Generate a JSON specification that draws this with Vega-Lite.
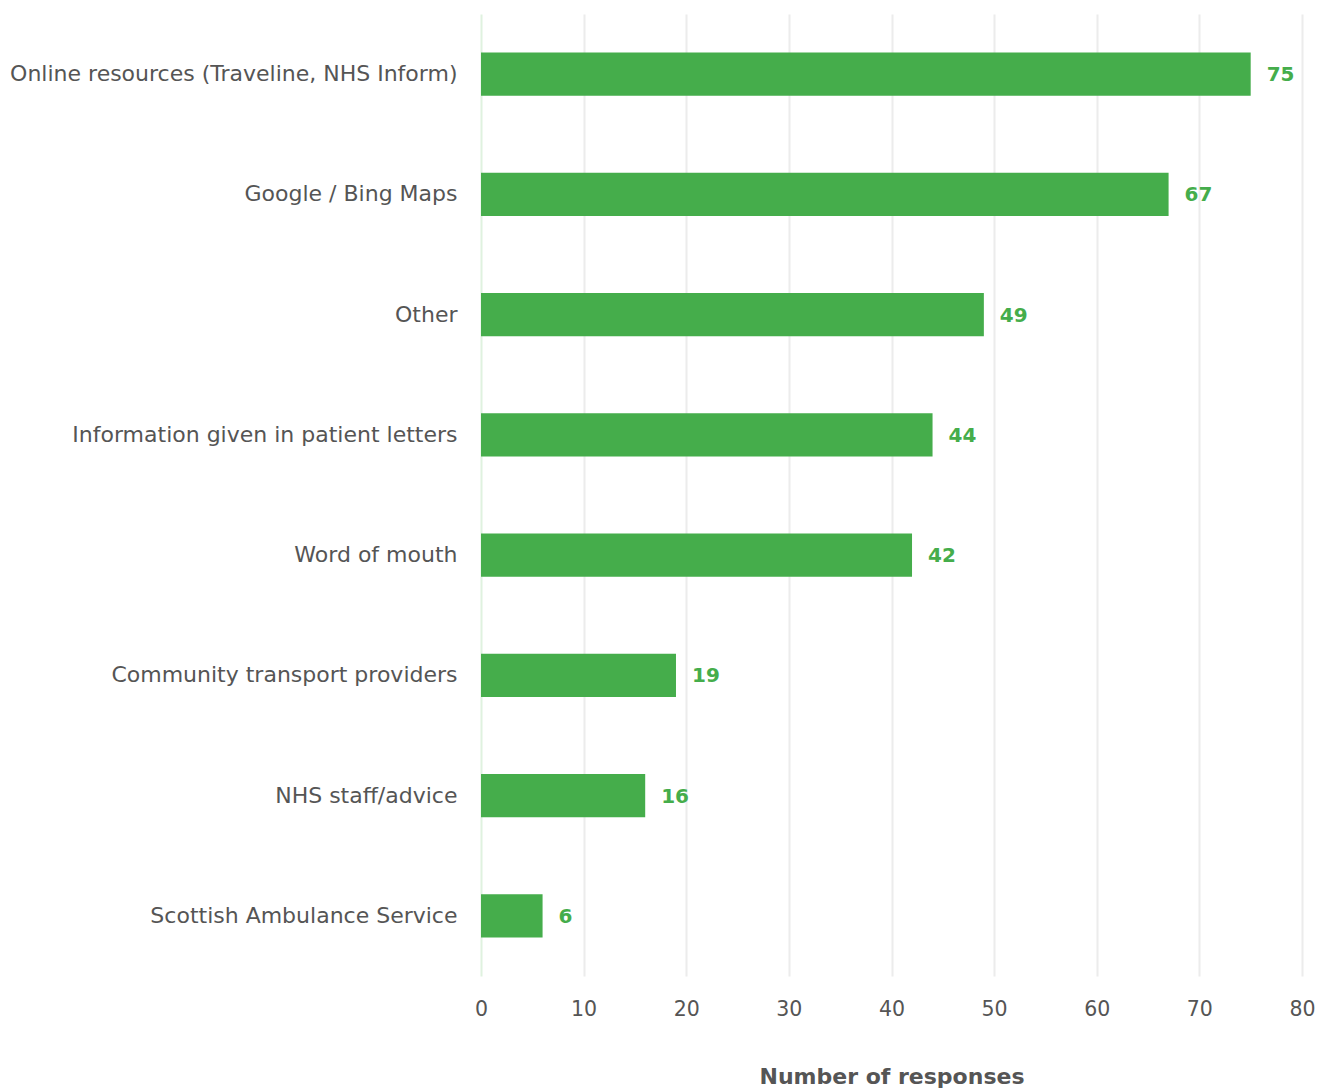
{
  "$schema": "https://vega.github.io/schema/vega-lite/v6.json",
  "autosize": {"type": "none"},
  "width": 821,
  "height": 962,
  "padding": {"left": 481, "top": 14, "right": 28, "bottom": 113},
  "background": "white",
  "config": {"view": {"stroke": null}, "font": "DejaVu Sans"},
  "data": {"values": [
    {"source": "Online resources (Traveline, NHS Inform)", "count": 75},
    {"source": "Google / Bing Maps", "count": 67},
    {"source": "Other", "count": 49},
    {"source": "Information given in patient letters", "count": 44},
    {"source": "Word of mouth", "count": 42},
    {"source": "Community transport providers", "count": 19},
    {"source": "NHS staff/advice", "count": 16},
    {"source": "Scottish Ambulance Service", "count": 6}
  ]},
  "encoding": {
    "y": {"field": "source", "type": "nominal", "sort": null,
      "scale": {"paddingInner": 0.64, "paddingOuter": 0.32},
      "axis": {"title": null, "domain": false, "ticks": false, "grid": false,
        "labelFontSize": 22, "labelColor": "#555555", "labelPadding": 24, "labelLimit": 480}},
    "x": {"field": "count", "type": "quantitative",
      "scale": {"domain": [0, 80], "nice": false},
      "axis": {"title": "Number of responses", "titleFontSize": 22, "titleFontWeight": "bold", "titleColor": "#555555",
        "titlePadding": 47, "values": [0,10,20,30,40,50,60,70,80],
        "labelOverlap": false, "labelFlush": false,
        "domain": false, "ticks": false, "labelFontSize": 20.5, "labelColor": "#555555", "labelPadding": 23,
        "gridColor": {"condition": {"test": "datum.value === 0", "value": "#dff2df"}, "value": "#ececec"}, "gridWidth": 2}}
  },
  "layer": [
    {"mark": {"type": "bar", "color": "#45ad4b"}},
    {"mark": {"type": "text", "align": "left", "baseline": "middle", "dx": 16, "dy": 1, "fontSize": 20, "fontWeight": "bold", "color": "#45ad4b"},
     "encoding": {"text": {"field": "count", "type": "quantitative"}}}
  ]
}
